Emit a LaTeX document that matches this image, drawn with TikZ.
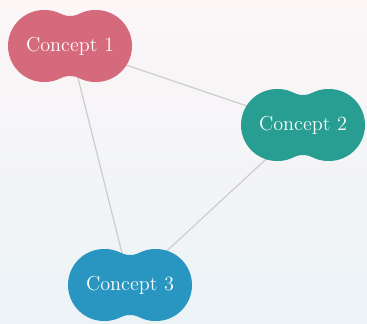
\documentclass[tikz,border=0pt]{standalone}
\usetikzlibrary{positioning}
\pgfdeclarelayer{background}
\pgfsetlayers{background,main}
\definecolor{rosered}{RGB}{212,106,124}
\definecolor{tealgreen}{RGB}{40,157,145}
\definecolor{skyblue}{RGB}{40,150,192}
\definecolor{linkgray}{RGB}{205,205,205}
\definecolor{bgblue}{RGB}{236,243,247}
\definecolor{bgpink}{RGB}{252,246,247}

% peanut-shaped blob under a named node
\newcommand{\peanut}[2]{%
  \begin{scope}[shift={(#2.center)}]
    \fill[#1] (0,0.6) .. controls (0.2,0.6) and (0.22,0.72) .. (0.52,0.72)
      arc[start angle=90, end angle=-90, radius=0.72]
      .. controls (0.22,-0.72) and (0.2,-0.6) .. (0,-0.6)
      .. controls (-0.2,-0.6) and (-0.22,-0.72) .. (-0.52,-0.72)
      arc[start angle=270, end angle=90, radius=0.72]
      .. controls (-0.22,0.72) and (-0.2,0.6) .. (0,0.6) -- cycle;
  \end{scope}}

\begin{document}
\begin{tikzpicture}[on grid,
    concept/.style = {text=white, font=\fontsize{11.5}{14}\selectfont},
    link/.style = {draw=linkgray, line width=0.7pt, double=white, double distance=1pt}]
    \useasboundingbox (0,0) rectangle (7.34,6.46);

    \node (c1) [concept] at (1.40,5.54) {Concept 1};
    \node (c2) [concept, below right=1.58cm and 4.66cm of c1] {Concept 2};
    \node (c3) [concept, below right=4.78cm and 1.20cm of c1] {Concept 3};

    \begin{pgfonlayer}{background}
        \shade[top color=bgpink, middle color=white, bottom color=bgblue] (0,0) rectangle (7.34,6.46);
        \path[link]
        (c1.center) edge (c2.center)
        (c1.center) edge (c3.center)
        (c2.center) edge (c3.center);
        \foreach \n/\c in {c1/rosered, c2/tealgreen, c3/skyblue}
            {\peanut{\c}{\n}}
    \end{pgfonlayer}
\end{tikzpicture}
\end{document}
